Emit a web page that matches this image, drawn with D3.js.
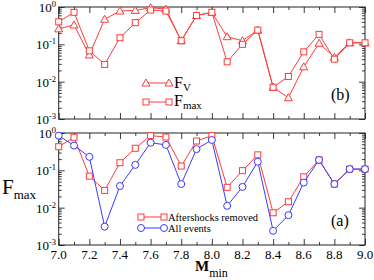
<!DOCTYPE html>
<html>
<head>
<meta charset="utf-8">
<script src="https://cdn.jsdelivr.net/npm/d3@7"></script>
<style>
  body { margin: 0; background: #fff; }
  svg { display: block; font-family: "Liberation Serif", "DejaVu Serif", serif; }
</style>
</head>
<body>
<svg id="chart" width="374" height="280"></svg>
<script>
// magnitude thresholds
const mMin = [7.0, 7.1, 7.2, 7.3, 7.4, 7.5, 7.6, 7.7, 7.8, 7.9, 8.0,
              8.1, 8.2, 8.3, 8.4, 8.5, 8.6, 8.7, 8.8, 8.9, 9.0];

// panel (b)
const fV   = [0.26, 0.33, 0.052, 0.47, 0.78, 0.81, 0.96, 0.88, 0.125, 0.59, 0.72,
              0.16, 0.125, 0.24, 0.0071, 0.0037, 0.025, 0.107, 0.045, 0.11, 0.11];
const fMax = [0.40, 0.72, 0.067, 0.029, 0.15, 0.38, 0.83, 0.78, 0.125, 0.59, 0.72,
              0.034, 0.10, 0.24, 0.0071, 0.0138, 0.063, 0.185, 0.040, 0.11, 0.11];

// panel (a)
const fRemoved = [0.43, 0.77, 0.070, 0.029, 0.16, 0.39, 0.85, 0.78, 0.13, 0.61, 0.85,
                  0.035, 0.098, 0.26, 0.0073, 0.0144, 0.067, 0.19, 0.043, 0.108, 0.108];
const fAll     = [0.85, 0.46, 0.23, 0.0031, 0.038, 0.14, 0.55, 0.48, 0.043, 0.37, 0.65,
                  0.0112, 0.036, 0.17, 0.0024, 0.0063, 0.047, 0.19, 0.043, 0.108, 0.108];

const xTicks = [7.0, 7.2, 7.4, 7.6, 7.8, 8.0, 8.2, 8.4, 8.6, 8.8, 9.0];
const yDecades = [1e-3, 1e-2, 1e-1, 1];
const yExp = ["-3", "-2", "-1", "0"];

const RED = "#ff3a3a", BLUE = "#3a3aff";
const svg = d3.select("#chart");

const left = 58.7, right = 365;
const x = d3.scaleLinear().domain([7, 9]).range([left, right]);

const minorX = d3.range(7.1, 9.0, 0.2).map(v => +v.toFixed(1));
const minorY = [];
yDecades.slice(0, 3).forEach(d => { for (let k = 2; k <= 9; k++) minorY.push(d * k); });

// hollow markers
function drawMarkers(g, pts, shape, color) {
  const sel = g.selectAll(null).data(pts).enter();
  let m;
  if (shape === "square") {
    m = sel.append("rect").attr("x", d => d[0] - 3).attr("y", d => d[1] - 3)
      .attr("width", 6).attr("height", 6);
  } else if (shape === "circle") {
    m = sel.append("circle").attr("cx", d => d[0]).attr("cy", d => d[1]).attr("r", 3.5);
  } else {
    m = sel.append("path").attr("d", d =>
      `M${d[0]},${d[1] - 4}L${d[0] + 4},${d[1] + 3}L${d[0] - 4},${d[1] + 3}Z`);
  }
  m.attr("fill", "#fff").attr("stroke", color).attr("stroke-width", 1);
}

function panel(top, bottom, series, tag, tagY, showX) {
  const y = d3.scaleLog().domain([1e-3, 1]).range([bottom, top]);
  const g = svg.append("g");

  // ticks on all four sides, pointing inward
  const axes = [
    [d3.axisBottom(x), `translate(0,${bottom})`, xTicks, minorX],
    [d3.axisTop(x), `translate(0,${top})`, xTicks, minorX],
    [d3.axisLeft(y), `translate(${left},0)`, yDecades, minorY],
    [d3.axisRight(y), `translate(${right},0)`, yDecades, minorY]
  ];
  axes.forEach(([ax, tr, maj, min]) => {
    g.append("g").attr("transform", tr)
      .call(ax.tickValues(maj).tickSize(-6).tickFormat(""))
      .call(s => s.select(".domain").remove());
    g.append("g").attr("transform", tr)
      .call(ax.tickValues(min).tickSize(-3).tickFormat(""))
      .call(s => s.select(".domain").remove());
  });
  g.selectAll(".tick line").attr("stroke", "#222").attr("stroke-width", 0.9);

  g.append("rect")
    .attr("x", left).attr("y", top)
    .attr("width", right - left).attr("height", bottom - top)
    .attr("fill", "none").attr("stroke", "#222").attr("stroke-width", 1);

  // y labels 10^n
  yDecades.forEach((d, i) => {
    const t = g.append("text")
      .attr("x", 56).attr("y", y(d) + 5)
      .attr("text-anchor", "end")
      .attr("font-size", 13);
    t.append("tspan").text("10");
    t.append("tspan").attr("dy", -5).attr("font-size", 8.5).text(yExp[i]);
  });

  if (showX) {
    g.selectAll(null).data(xTicks).enter().append("text")
      .attr("x", d => x(d)).attr("y", bottom + 14)
      .attr("text-anchor", "middle").attr("font-size", 13)
      .text(d => d.toFixed(1));
  }

  const line = d3.line().x((d, i) => x(mMin[i])).y(d => y(d));
  series.forEach(s => {
    g.append("path").datum(s.values)
      .attr("d", line).attr("fill", "none")
      .attr("stroke", s.color).attr("stroke-width", 1);
    drawMarkers(g, s.values.map((v, i) => [x(mMin[i]), y(v)]), s.shape, s.color);
  });

  g.append("text").attr("x", 331).attr("y", tagY)
    .attr("font-size", 16).text(tag);
}

panel(7, 119, [
  { values: fV, color: RED, shape: "triangle" },
  { values: fMax, color: RED, shape: "square" }
], "(b)", 100, false);

panel(133, 245, [
  { values: fRemoved, color: RED, shape: "square" },
  { values: fAll, color: BLUE, shape: "circle" }
], "(a)", 226, true);

function legendItem(x0, y0, color, shape) {
  const g = svg.append("g");
  g.append("line").attr("x1", x0).attr("x2", x0 + 23).attr("y1", y0).attr("y2", y0)
    .attr("stroke", color).attr("stroke-width", 1);
  drawMarkers(g, [[x0, y0], [x0 + 23, y0]], shape, color);
}

// legend (b)
legendItem(146, 83, RED, "triangle");
legendItem(146, 102, RED, "square");
const l1 = svg.append("text").attr("x", 174).attr("y", 88).attr("font-size", 16);
l1.append("tspan").text("F");
l1.append("tspan").attr("dy", 3).attr("font-size", 11).text("V");
const l2 = svg.append("text").attr("x", 174).attr("y", 106).attr("font-size", 16);
l2.append("tspan").text("F");
l2.append("tspan").attr("dy", 3).attr("font-size", 11).text("max");

// legend (a)
legendItem(141, 217, RED, "square");
legendItem(141, 228, BLUE, "circle");
svg.append("text").attr("x", 168).attr("y", 221).attr("font-size", 10.5).text("Aftershocks removed");
svg.append("text").attr("x", 168).attr("y", 232).attr("font-size", 10.5).text("All events");

// axis titles
const yl = svg.append("text").attr("x", 2).attr("y", 194).attr("font-size", 21);
yl.append("tspan").text("F");
yl.append("tspan").attr("dy", 5).attr("font-size", 13).text("max");
const xl = svg.append("text").attr("x", 195).attr("y", 271).attr("font-size", 15).attr("font-weight", "bold");
xl.append("tspan").text("M");
xl.append("tspan").attr("dy", 6).attr("font-size", 12).attr("font-weight", "normal").text("min");
</script>
</body>
</html>
